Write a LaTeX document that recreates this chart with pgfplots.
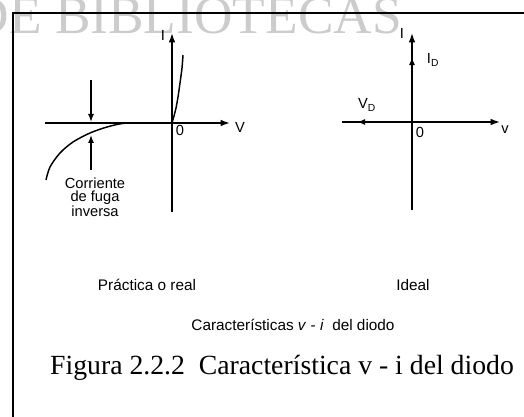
\documentclass[border=0pt]{standalone}
\usepackage{pgfplots}
\pgfplotsset{compat=1.18}
\usetikzlibrary{arrows.meta}
\usepackage{fontspec}
\setmainfont{Liberation Serif}
\setsansfont{Liberation Sans}

% reverse branch of the real diode (px relative to the origin)
\pgfplotstableread{
v i
-32 0
-49 -0.4
-65 -4
-82 -10
-99 -19
-112 -30
-122 -44
-126 -57
}\reverse
\pgfplotstableread{
v i
0 0
2 7
4 15
6 26
8 40
10 55
11 68
}\forward

\tikzset{
  lbl/.style={font=\sffamily\fontsize{11}{12}\selectfont, inner sep=0},
  arr/.style={line width=1pt, -{Latex[length=6pt,width=4.5pt]}},
}
\pgfplotsset{
  diode/.style={
    x=0.75pt, y=0.75pt,
    axis lines=middle,
    enlargelimits=false,
    clip=false,
    xtick=\empty, ytick=\empty,
    axis line style={line width=1.2pt, -{Latex[length=7pt,width=5pt]}},
    every axis plot/.append style={line width=1.1pt, black},
  },
}

\begin{document}
\begin{tikzpicture}[x=0.75pt,y=-0.75pt]
\useasboundingbox (0,0) rectangle (524,417);
\clip (0,0) rectangle (524,417);
\coordinate (O1) at (172,123);
\coordinate (O2) at (412,122);

\node[anchor=base east, inner sep=0, text=black!20,
      font=\fontsize{40}{40}\selectfont] at (402,34) {DE BIBLIOTECAS};

\draw[line width=1.8pt] (524,13) -- (13,13) -- (13,417);

% practical / real characteristic
\begin{axis}[diode, anchor=origin, at={(O1)},
  xmin=-127, xmax=58, ymin=-89, ymax=90]
\addplot[smooth] table {\forward};
\addplot[smooth] table {\reverse};
\addplot[arr] coordinates {(-81,43) (-81,1)};
\addplot[arr] coordinates {(-81,-47) (-81,-12)};
\node[lbl] at (axis cs:-9,88) {I};
\node[lbl] at (axis cs:68,-4) {V};
\node[lbl] at (axis cs:8,-7) {0};
\node[lbl, anchor=north, align=center, font=\sffamily\fontsize{11}{9.6}\selectfont]
  at (axis cs:-77,-55) {Corriente\\de fuga\\inversa};
\end{axis}

% ideal characteristic
\begin{axis}[diode, anchor=origin, at={(O2)},
  xmin=-70, xmax=88, ymin=-88, ymax=89]
\addplot[arr, line width=1.2pt] coordinates {(0,0) (0,65)};
\addplot[arr, line width=1.2pt] coordinates {(0,0) (-55,0)};
\node[lbl] at (axis cs:-10,89) {I};
\node[lbl] at (axis cs:21,62) {I\textsubscript{D}};
\node[lbl] at (axis cs:-45,17) {V\textsubscript{D}};
\node[lbl] at (axis cs:93,-8) {v};
\node[lbl] at (axis cs:8,-10) {0};
\end{axis}

\node[lbl, anchor=base, font=\sffamily\fontsize{11.5}{12}\selectfont] at (147,290) {Práctica o real};
\node[lbl, anchor=base, font=\sffamily\fontsize{11.5}{12}\selectfont] at (413,290) {Ideal};
\node[lbl, anchor=base, font=\sffamily\fontsize{11.5}{12}\selectfont] at (293,330)
  {Características \textit{v} - \textit{i}\ \ del diodo};
\node[anchor=base, inner sep=0, font=\fontsize{20.8}{24}\selectfont] at (282,374)
  {Figura 2.2.2\ \ Característica v - i del diodo};
\end{tikzpicture}
\end{document}
